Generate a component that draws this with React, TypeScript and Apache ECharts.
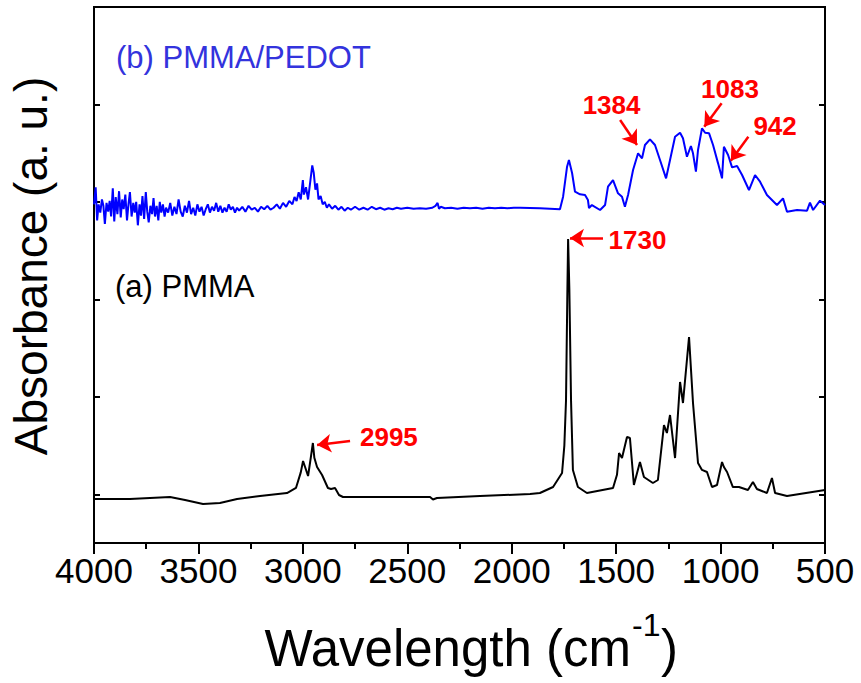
import React, { useEffect, useRef } from "react";
import * as echarts from "echarts";

// Wavenumber ticks (cm^-1)
const xTickValues = [4000, 3500, 3000, 2500, 2000, 1500, 1000, 500];
const yTickValues = [1, 3, 5, 7, 9, 11];

// (a) PMMA spectrum
const wavePMMA = [
  4000, 3828, 3732, 3636, 3564, 3478, 3397, 3315, 3205, 3076, 3033, 3010, 2999, 2975, 2962, 2952, 2945, 2932,
  2908, 2880, 2865, 2846, 2827, 2808, 2535, 2391, 2377, 2358, 2152, 1912, 1865, 1802, 1759, 1748, 1740, 1734,
  1730, 1724, 1716, 1707, 1683, 1640, 1515, 1496, 1486, 1472, 1448, 1434, 1415, 1386, 1367, 1324, 1300, 1271,
  1257, 1242, 1218, 1194, 1180, 1151, 1132, 1108, 1089, 1065, 1041, 1017, 993, 984, 969, 941, 912, 869, 845,
  826, 778, 754, 739, 682, 500,
];
const absPMMA = [
  0.903, 0.903, 0.923, 0.944, 0.882, 0.8, 0.821, 0.903, 0.964, 1.026, 1.129, 1.45, 1.683, 1.375, 1.75, 2.052,
  1.75, 1.56, 1.395, 1.129, 1.108, 1.129, 0.985, 0.944, 0.944, 0.944, 0.893, 0.923, 0.964, 1.006, 1.026, 1.149,
  1.436, 2.0, 2.93, 5.0, 6.238, 5.2, 2.93, 1.498, 1.149, 1.026, 1.129, 1.4, 1.847, 1.744, 2.175, 2.155, 1.19,
  1.662, 1.354, 1.231, 1.293, 2.421, 2.257, 2.627, 1.744, 3.304, 2.873, 4.227, 2.873, 1.642, 1.5, 1.457, 1.149,
  1.19, 1.662, 1.56, 1.457, 1.149, 1.149, 1.088, 1.252, 1.108, 1.026, 1.334, 1.026, 0.964, 1.088,
];

// (b) PMMA/PEDOT spectrum
const wavePEDOT = [
  4000, 3992, 3985, 3978, 3970, 3962, 3955, 3948, 3940, 3932, 3925, 3918, 3910, 3903, 3896, 3888, 3880, 3872,
  3865, 3858, 3850, 3842, 3835, 3828, 3820, 3812, 3805, 3798, 3790, 3782, 3775, 3768, 3760, 3752, 3745, 3738,
  3730, 3722, 3715, 3708, 3700, 3692, 3685, 3678, 3670, 3662, 3655, 3645, 3635, 3625, 3615, 3605, 3595, 3585,
  3575, 3565, 3555, 3545, 3535, 3525, 3515, 3505, 3495, 3485, 3475, 3465, 3455, 3445, 3435, 3425, 3415, 3405,
  3395, 3385, 3375, 3365, 3355, 3345, 3335, 3325, 3315, 3305, 3290, 3275, 3260, 3245, 3230, 3215, 3200, 3185,
  3170, 3155, 3140, 3125, 3110, 3095, 3080, 3065, 3050, 3040, 3030, 3020, 3010, 3000, 2995, 2985, 2975, 2965,
  2955, 2948, 2940, 2932, 2925, 2915, 2905, 2895, 2885, 2875, 2860, 2845, 2830, 2815, 2800, 2785, 2770, 2750,
  2730, 2710, 2690, 2670, 2650, 2630, 2610, 2590, 2570, 2550, 2530, 2500, 2470, 2440, 2410, 2380, 2365, 2355,
  2348, 2340, 2320, 2290, 2260, 2230, 2200, 2170, 2140, 2110, 2080, 2050, 2020, 1990, 1960, 1865, 1769, 1754,
  1735, 1726, 1711, 1697, 1673, 1649, 1635, 1630, 1616, 1577, 1553, 1539, 1515, 1491, 1472, 1458, 1443, 1419,
  1395, 1376, 1362, 1338, 1314, 1290, 1261, 1242, 1218, 1194, 1180, 1161, 1142, 1132, 1118, 1108, 1089, 1074,
  1055, 1036, 1012, 993, 984, 964, 945, 921, 897, 864, 835, 811, 778, 730, 701, 682, 634, 586, 572, 557, 524,
  500,
];
const absPEDOT = [
  6.95, 7.3, 6.62, 6.95, 6.78, 7.05, 6.92, 6.55, 6.98, 6.8, 7.02, 6.7, 7.28, 6.6, 7.1, 6.75, 7.22, 6.68, 7.05,
  6.85, 7.15, 6.62, 6.95, 7.2, 6.7, 6.98, 6.78, 7.0, 6.52, 6.95, 6.72, 7.12, 6.65, 7.2, 6.8, 6.58, 6.92, 6.75,
  7.08, 6.7, 6.92, 6.62, 7.0, 6.78, 6.95, 6.7, 6.88, 6.78, 6.98, 6.72, 6.9, 6.75, 7.05, 6.8, 6.7, 6.92, 6.78,
  7.02, 6.75, 6.88, 6.72, 6.95, 6.8, 6.9, 6.72, 6.85, 6.95, 6.78, 6.9, 6.82, 6.98, 6.8, 6.92, 6.78, 6.88, 6.8,
  6.95, 6.84, 6.9, 6.78, 6.88, 6.82, 6.9, 6.8, 6.92, 6.84, 6.88, 6.8, 6.9, 6.85, 6.92, 6.84, 6.88, 6.95, 6.86,
  6.98, 6.9, 7.02, 6.95, 7.1, 7.02, 7.2, 7.05, 7.45, 7.15, 7.3, 7.05, 7.4, 7.75, 7.6, 7.25, 7.38, 7.05, 7.12,
  6.95, 7.0, 6.88, 6.95, 6.86, 6.92, 6.84, 6.9, 6.82, 6.88, 6.84, 6.9, 6.84, 6.88, 6.84, 6.9, 6.85, 6.88, 6.84,
  6.87, 6.85, 6.88, 6.86, 6.88, 6.86, 6.87, 6.86, 6.88, 6.92, 6.98, 6.86, 6.9, 6.87, 6.88, 6.86, 6.88, 6.87,
  6.88, 6.86, 6.88, 6.87, 6.88, 6.87, 6.88, 6.881, 6.868, 6.848, 7.107, 7.722, 7.86, 7.593, 7.209, 7.156,
  7.141, 7.039, 6.875, 6.936, 6.834, 6.936, 7.312, 7.449, 7.176, 7.107, 6.901, 7.141, 7.654, 7.997, 7.895,
  8.168, 8.284, 8.168, 7.86, 7.484, 7.86, 8.338, 8.42, 8.305, 7.927, 8.147, 7.997, 7.62, 8.065, 8.51, 8.42,
  8.407, 8.168, 7.791, 7.484, 8.133, 7.962, 7.709, 7.737, 7.552, 7.244, 7.552, 7.415, 7.141, 6.936, 7.073,
  6.799, 6.834, 6.82, 6.984, 6.834, 7.025, 6.936,
];

// Peak annotations: label, label anchor (wavenumber, value), arrow tail, arrow tip
const peakLabels = ["1384", "1083", "942", "1730", "2995"];
const labelWave = [1522, 955, 739, 1398, 2588];
const labelAbs = [8.988, 9.317, 8.557, 6.218, 2.175];
const arrowTailWave = [1481, 995, 867, 1563, 2774];
const arrowTailAbs = [8.681, 9.023, 8.338, 6.259, 2.093];
const arrowTipWave = [1400, 1078, 951, 1721, 2932];
const arrowTipAbs = [8.168, 8.543, 7.845, 6.259, 2.011];

const FONT = "'Liberation Sans', Arial, Helvetica, sans-serif";

export default function App() {
  const ref = useRef<HTMLDivElement>(null);

  useEffect(() => {
    if (!ref.current) return;
    const chart = echarts.init(ref.current, undefined, { renderer: "svg" });

    const pmmaData = wavePMMA.map((w, i) => [w, absPMMA[i]]);
    const pedotData = wavePEDOT.map((w, i) => [w, absPEDOT[i]]);

    const axisLineStyle = { color: "#000", width: 2 };

    const yAxisBase = {
      type: "value",
      min: 0,
      max: 11,
      axisLine: { show: true, lineStyle: axisLineStyle },
      axisTick: {
        show: true,
        inside: true,
        length: 6,
        customValues: yTickValues,
        lineStyle: axisLineStyle,
      },
      axisLabel: { show: false },
      splitLine: { show: false },
    };

    const option: any = {
      animation: false,
      backgroundColor: "#fff",
      grid: {
        left: 94,
        right: 36,
        top: 7,
        bottom: 140,
        show: true,
        borderColor: "#000",
        borderWidth: 2,
        backgroundColor: "transparent",
      },
      xAxis: [
        {
          type: "value",
          inverse: true,
          min: 500,
          max: 4000,
          interval: 500,
          axisLine: { show: true, onZero: false, lineStyle: axisLineStyle },
          axisTick: {
            show: true,
            inside: false,
            length: 11,
            lineStyle: axisLineStyle,
          },
          minorTick: { show: true, splitNumber: 2, length: 6, lineStyle: axisLineStyle },
          axisLabel: {
            fontSize: 35,
            color: "#000",
            fontFamily: FONT,
            margin: 10,
            formatter: (v: number) => String(v),
          },
          splitLine: { show: false },
          minorSplitLine: { show: false },
        },
      ],
      yAxis: [
        { ...yAxisBase, position: "left" },
        { ...yAxisBase, position: "right" },
      ],
      series: [
        {
          name: "(a) PMMA",
          type: "line",
          data: pmmaData,
          showSymbol: false,
          symbol: "none",
          lineStyle: { color: "#000", width: 2 },
          itemStyle: { color: "#000" },
          silent: true,
          z: 3,
          markLine: {
            silent: true,
            symbol: ["none", "arrow"],
            symbolSize: 14,
            label: { show: false },
            itemStyle: { color: "#ff0000" },
            lineStyle: { color: "#ff0000", width: 2.5, type: "solid" },
            data: peakLabels.map((_, i) => [
              { coord: [arrowTailWave[i], arrowTailAbs[i]] },
              { coord: [arrowTipWave[i], arrowTipAbs[i]] },
            ]),
          },
          markPoint: {
            silent: true,
            symbol: "circle",
            symbolSize: 0,
            label: {
              show: true,
              position: "inside",
              color: "#ff0000",
              fontWeight: "bold",
              fontSize: 26,
              fontFamily: FONT,
              formatter: (p: any) => p.name,
            },
            data: peakLabels.map((t, i) => ({ name: t, coord: [labelWave[i], labelAbs[i]] })),
          },
        },
        {
          name: "(b) PMMA/PEDOT",
          type: "line",
          data: pedotData,
          showSymbol: false,
          symbol: "none",
          lineStyle: { color: "#0000ff", width: 2 },
          itemStyle: { color: "#0000ff" },
          silent: true,
          z: 2,
        },
      ],
      graphic: [
        {
          type: "text",
          x: 31,
          y: 266,
          rotation: Math.PI / 2,
          style: {
            text: "Absorbance (a. u.)",
            fontSize: 46,
            fontFamily: FONT,
            fill: "#000",
            align: "center",
            verticalAlign: "middle",
          },
        },
        {
          type: "text",
          x: 631,
          y: 648,
          style: {
            text: "Wavelength (cm",
            fontSize: 51,
            fontFamily: FONT,
            fill: "#000",
            align: "right",
            verticalAlign: "middle",
          },
        },
        {
          type: "text",
          x: 632,
          y: 625,
          style: {
            text: "-1",
            fontSize: 32,
            fontFamily: FONT,
            fill: "#000",
            align: "left",
            verticalAlign: "middle",
          },
        },
        {
          type: "text",
          x: 661,
          y: 648,
          style: {
            text: ")",
            fontSize: 51,
            fontFamily: FONT,
            fill: "#000",
            align: "left",
            verticalAlign: "middle",
          },
        },
        {
          type: "text",
          x: 116,
          y: 57,
          style: {
            text: "(b) PMMA/PEDOT",
            fontSize: 31,
            fontFamily: FONT,
            fill: "#3333dd",
            align: "left",
            verticalAlign: "middle",
          },
        },
        {
          type: "text",
          x: 115,
          y: 286,
          style: {
            text: "(a) PMMA",
            fontSize: 31,
            fontFamily: FONT,
            fill: "#000",
            align: "left",
            verticalAlign: "middle",
          },
        },
      ],
    };

    chart.setOption(option);
    return () => chart.dispose();
  }, []);

  return (
    <div
      ref={ref}
      style={{ position: "fixed", left: 0, top: 0, width: 861, height: 683, background: "#fff" }}
    />
  );
}
